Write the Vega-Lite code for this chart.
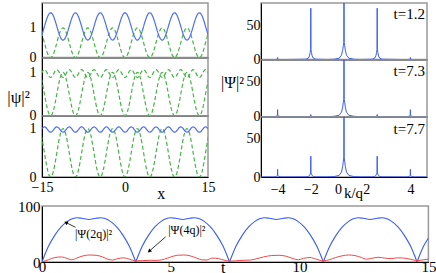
{
"$schema": "https://vega.github.io/schema/vega-lite/v6.json",
"padding": {"left": 5, "top": 2, "right": 0, "bottom": 0},
"spacing": -4,
"config": {
  "font": "Liberation Serif",
  "view": {"stroke": "#999", "strokeWidth": 1.5},
  "axis": {"domainColor": "black", "domainWidth": 1, "ticks": false, "tickSize": 0, "grid": false, "labelFont": "Liberation Serif", "titleFont": "Liberation Serif", "labelColor": "black", "titleColor": "black", "titleFontWeight": "normal", "labelFontSize": 14, "labelFlush": false, "labelOverlap": false}
},
"datasets": {
"left": [
{"x":-15.12,"g":0.854,"b1":0.725,"b2":0.97,"b3":0.98},
{"x":-14.84,"g":0.691,"b1":0.874,"b2":1.034,"b3":1.019},
{"x":-14.56,"g":0.5,"b1":1.05,"b2":1.06,"b3":1.035},
{"x":-14.28,"g":0.309,"b1":1.226,"b2":1.034,"b3":1.019},
{"x":-14,"g":0.146,"b1":1.375,"b2":0.97,"b3":0.98},
{"x":-13.72,"g":0.038,"b1":1.475,"b2":0.906,"b3":0.941},
{"x":-13.44,"g":0,"b1":1.51,"b2":0.88,"b3":0.925},
{"x":-13.16,"g":0.038,"b1":1.475,"b2":0.906,"b3":0.941},
{"x":-12.88,"g":0.146,"b1":1.375,"b2":0.97,"b3":0.98},
{"x":-12.6,"g":0.309,"b1":1.226,"b2":1.034,"b3":1.019},
{"x":-12.32,"g":0.5,"b1":1.05,"b2":1.06,"b3":1.035},
{"x":-12.04,"g":0.691,"b1":0.874,"b2":1.034,"b3":1.019},
{"x":-11.76,"g":0.854,"b1":0.725,"b2":0.97,"b3":0.98},
{"x":-11.48,"g":0.962,"b1":0.625,"b2":0.906,"b3":0.941},
{"x":-11.2,"g":1,"b1":0.59,"b2":0.88,"b3":0.925},
{"x":-10.92,"g":0.962,"b1":0.625,"b2":0.906,"b3":0.941},
{"x":-10.64,"g":0.854,"b1":0.725,"b2":0.97,"b3":0.98},
{"x":-10.36,"g":0.691,"b1":0.874,"b2":1.034,"b3":1.019},
{"x":-10.08,"g":0.5,"b1":1.05,"b2":1.06,"b3":1.035},
{"x":-9.8,"g":0.309,"b1":1.226,"b2":1.034,"b3":1.019},
{"x":-9.52,"g":0.146,"b1":1.375,"b2":0.97,"b3":0.98},
{"x":-9.24,"g":0.038,"b1":1.475,"b2":0.906,"b3":0.941},
{"x":-8.96,"g":0,"b1":1.51,"b2":0.88,"b3":0.925},
{"x":-8.68,"g":0.038,"b1":1.475,"b2":0.906,"b3":0.941},
{"x":-8.4,"g":0.146,"b1":1.375,"b2":0.97,"b3":0.98},
{"x":-8.12,"g":0.309,"b1":1.226,"b2":1.034,"b3":1.019},
{"x":-7.84,"g":0.5,"b1":1.05,"b2":1.06,"b3":1.035},
{"x":-7.56,"g":0.691,"b1":0.874,"b2":1.034,"b3":1.019},
{"x":-7.28,"g":0.854,"b1":0.725,"b2":0.97,"b3":0.98},
{"x":-7,"g":0.962,"b1":0.625,"b2":0.906,"b3":0.941},
{"x":-6.72,"g":1,"b1":0.59,"b2":0.88,"b3":0.925},
{"x":-6.44,"g":0.962,"b1":0.625,"b2":0.906,"b3":0.941},
{"x":-6.16,"g":0.854,"b1":0.725,"b2":0.97,"b3":0.98},
{"x":-5.88,"g":0.691,"b1":0.874,"b2":1.034,"b3":1.019},
{"x":-5.6,"g":0.5,"b1":1.05,"b2":1.06,"b3":1.035},
{"x":-5.32,"g":0.309,"b1":1.226,"b2":1.034,"b3":1.019},
{"x":-5.04,"g":0.146,"b1":1.375,"b2":0.97,"b3":0.98},
{"x":-4.76,"g":0.038,"b1":1.475,"b2":0.906,"b3":0.941},
{"x":-4.48,"g":0,"b1":1.51,"b2":0.88,"b3":0.925},
{"x":-4.2,"g":0.038,"b1":1.475,"b2":0.906,"b3":0.941},
{"x":-3.92,"g":0.146,"b1":1.375,"b2":0.97,"b3":0.98},
{"x":-3.64,"g":0.309,"b1":1.226,"b2":1.034,"b3":1.019},
{"x":-3.36,"g":0.5,"b1":1.05,"b2":1.06,"b3":1.035},
{"x":-3.08,"g":0.691,"b1":0.874,"b2":1.034,"b3":1.019},
{"x":-2.8,"g":0.854,"b1":0.725,"b2":0.97,"b3":0.98},
{"x":-2.52,"g":0.962,"b1":0.625,"b2":0.906,"b3":0.941},
{"x":-2.24,"g":1,"b1":0.59,"b2":0.88,"b3":0.925},
{"x":-1.96,"g":0.962,"b1":0.625,"b2":0.906,"b3":0.941},
{"x":-1.68,"g":0.854,"b1":0.725,"b2":0.97,"b3":0.98},
{"x":-1.4,"g":0.691,"b1":0.874,"b2":1.034,"b3":1.019},
{"x":-1.12,"g":0.5,"b1":1.05,"b2":1.06,"b3":1.035},
{"x":-0.84,"g":0.309,"b1":1.226,"b2":1.034,"b3":1.019},
{"x":-0.56,"g":0.146,"b1":1.375,"b2":0.97,"b3":0.98},
{"x":-0.28,"g":0.038,"b1":1.475,"b2":0.906,"b3":0.941},
{"x":0,"g":0,"b1":1.51,"b2":0.88,"b3":0.925},
{"x":0.28,"g":0.038,"b1":1.475,"b2":0.906,"b3":0.941},
{"x":0.56,"g":0.146,"b1":1.375,"b2":0.97,"b3":0.98},
{"x":0.84,"g":0.309,"b1":1.226,"b2":1.034,"b3":1.019},
{"x":1.12,"g":0.5,"b1":1.05,"b2":1.06,"b3":1.035},
{"x":1.4,"g":0.691,"b1":0.874,"b2":1.034,"b3":1.019},
{"x":1.68,"g":0.854,"b1":0.725,"b2":0.97,"b3":0.98},
{"x":1.96,"g":0.962,"b1":0.625,"b2":0.906,"b3":0.941},
{"x":2.24,"g":1,"b1":0.59,"b2":0.88,"b3":0.925},
{"x":2.52,"g":0.962,"b1":0.625,"b2":0.906,"b3":0.941},
{"x":2.8,"g":0.854,"b1":0.725,"b2":0.97,"b3":0.98},
{"x":3.08,"g":0.691,"b1":0.874,"b2":1.034,"b3":1.019},
{"x":3.36,"g":0.5,"b1":1.05,"b2":1.06,"b3":1.035},
{"x":3.64,"g":0.309,"b1":1.226,"b2":1.034,"b3":1.019},
{"x":3.92,"g":0.146,"b1":1.375,"b2":0.97,"b3":0.98},
{"x":4.2,"g":0.038,"b1":1.475,"b2":0.906,"b3":0.941},
{"x":4.48,"g":0,"b1":1.51,"b2":0.88,"b3":0.925},
{"x":4.76,"g":0.038,"b1":1.475,"b2":0.906,"b3":0.941},
{"x":5.04,"g":0.146,"b1":1.375,"b2":0.97,"b3":0.98},
{"x":5.32,"g":0.309,"b1":1.226,"b2":1.034,"b3":1.019},
{"x":5.6,"g":0.5,"b1":1.05,"b2":1.06,"b3":1.035},
{"x":5.88,"g":0.691,"b1":0.874,"b2":1.034,"b3":1.019},
{"x":6.16,"g":0.854,"b1":0.725,"b2":0.97,"b3":0.98},
{"x":6.44,"g":0.962,"b1":0.625,"b2":0.906,"b3":0.941},
{"x":6.72,"g":1,"b1":0.59,"b2":0.88,"b3":0.925},
{"x":7,"g":0.962,"b1":0.625,"b2":0.906,"b3":0.941},
{"x":7.28,"g":0.854,"b1":0.725,"b2":0.97,"b3":0.98},
{"x":7.56,"g":0.691,"b1":0.874,"b2":1.034,"b3":1.019},
{"x":7.84,"g":0.5,"b1":1.05,"b2":1.06,"b3":1.035},
{"x":8.12,"g":0.309,"b1":1.226,"b2":1.034,"b3":1.019},
{"x":8.4,"g":0.146,"b1":1.375,"b2":0.97,"b3":0.98},
{"x":8.68,"g":0.038,"b1":1.475,"b2":0.906,"b3":0.941},
{"x":8.96,"g":0,"b1":1.51,"b2":0.88,"b3":0.925},
{"x":9.24,"g":0.038,"b1":1.475,"b2":0.906,"b3":0.941},
{"x":9.52,"g":0.146,"b1":1.375,"b2":0.97,"b3":0.98},
{"x":9.8,"g":0.309,"b1":1.226,"b2":1.034,"b3":1.019},
{"x":10.08,"g":0.5,"b1":1.05,"b2":1.06,"b3":1.035},
{"x":10.36,"g":0.691,"b1":0.874,"b2":1.034,"b3":1.019},
{"x":10.64,"g":0.854,"b1":0.725,"b2":0.97,"b3":0.98},
{"x":10.92,"g":0.962,"b1":0.625,"b2":0.906,"b3":0.941},
{"x":11.2,"g":1,"b1":0.59,"b2":0.88,"b3":0.925},
{"x":11.48,"g":0.962,"b1":0.625,"b2":0.906,"b3":0.941},
{"x":11.76,"g":0.854,"b1":0.725,"b2":0.97,"b3":0.98},
{"x":12.04,"g":0.691,"b1":0.874,"b2":1.034,"b3":1.019},
{"x":12.32,"g":0.5,"b1":1.05,"b2":1.06,"b3":1.035},
{"x":12.6,"g":0.309,"b1":1.226,"b2":1.034,"b3":1.019},
{"x":12.88,"g":0.146,"b1":1.375,"b2":0.97,"b3":0.98},
{"x":13.16,"g":0.038,"b1":1.475,"b2":0.906,"b3":0.941},
{"x":13.44,"g":0,"b1":1.51,"b2":0.88,"b3":0.925},
{"x":13.72,"g":0.038,"b1":1.475,"b2":0.906,"b3":0.941},
{"x":14,"g":0.146,"b1":1.375,"b2":0.97,"b3":0.98},
{"x":14.28,"g":0.309,"b1":1.226,"b2":1.034,"b3":1.019},
{"x":14.56,"g":0.5,"b1":1.05,"b2":1.06,"b3":1.035},
{"x":14.84,"g":0.691,"b1":0.874,"b2":1.034,"b3":1.019},
{"x":15.12,"g":0.854,"b1":0.725,"b2":0.97,"b3":0.98}
],
"right": [
{"k":-5,"p1":0.02,"p2":0.02,"p3":0.02},
{"k":-4.3,"p1":0.02,"p2":0.08,"p3":0.08},
{"k":-4.15,"p1":0.08,"p2":0.28,"p3":0.28},
{"k":-4.08,"p1":0.22,"p2":0.72,"p3":0.72},
{"k":-4.04,"p1":0.42,"p2":1.39,"p3":1.39},
{"k":-4.01,"p1":0.59,"p2":1.95,"p3":1.95},
{"k":-4,"p1":3,"p2":10,"p3":10},
{"k":-3.99,"p1":0.59,"p2":1.95,"p3":1.95},
{"k":-3.96,"p1":0.42,"p2":1.39,"p3":1.39},
{"k":-3.92,"p1":0.22,"p2":0.72,"p3":0.72},
{"k":-3.85,"p1":0.08,"p2":0.28,"p3":0.28},
{"k":-3.7,"p1":0.02,"p2":0.08,"p3":0.08},
{"k":-2.3,"p1":0.58,"p2":0.02,"p3":0.21},
{"k":-2.15,"p1":2.1,"p2":0.08,"p3":0.76},
{"k":-2.08,"p1":5.4,"p2":0.22,"p3":1.94},
{"k":-2.04,"p1":10.4,"p2":0.42,"p3":3.75},
{"k":-2.01,"p1":14.6,"p2":0.59,"p3":5.3},
{"k":-2,"p1":75,"p2":3,"p3":27},
{"k":-1.99,"p1":14.6,"p2":0.59,"p3":5.3},
{"k":-1.96,"p1":10.4,"p2":0.42,"p3":3.75},
{"k":-1.92,"p1":5.4,"p2":0.22,"p3":1.94},
{"k":-1.85,"p1":2.1,"p2":0.08,"p3":0.76},
{"k":-1.7,"p1":0.58,"p2":0.02,"p3":0.21},
{"k":-1,"p1":0.19,"p2":0.19,"p3":0.19},
{"k":-0.6,"p1":0.53,"p2":0.53,"p3":0.53},
{"k":-0.3,"p1":2,"p2":2,"p3":2},
{"k":-0.15,"p1":6.4,"p2":6.4,"p3":6.4},
{"k":-0.08,"p1":13.7,"p2":13.7,"p3":13.7},
{"k":-0.04,"p1":20.7,"p2":20.7,"p3":20.7},
{"k":-0.01,"p1":24.7,"p2":24.7,"p3":24.7},
{"k":0,"p1":200,"p2":200,"p3":200},
{"k":0.01,"p1":24.7,"p2":24.7,"p3":24.7},
{"k":0.04,"p1":20.7,"p2":20.7,"p3":20.7},
{"k":0.08,"p1":13.7,"p2":13.7,"p3":13.7},
{"k":0.15,"p1":6.4,"p2":6.4,"p3":6.4},
{"k":0.3,"p1":2,"p2":2,"p3":2},
{"k":0.6,"p1":0.53,"p2":0.53,"p3":0.53},
{"k":1,"p1":0.19,"p2":0.19,"p3":0.19},
{"k":1.7,"p1":0.58,"p2":0.02,"p3":0.21},
{"k":1.85,"p1":2.1,"p2":0.08,"p3":0.76},
{"k":1.92,"p1":5.4,"p2":0.22,"p3":1.94},
{"k":1.96,"p1":10.4,"p2":0.42,"p3":3.75},
{"k":1.99,"p1":14.6,"p2":0.59,"p3":5.3},
{"k":2,"p1":75,"p2":3,"p3":27},
{"k":2.01,"p1":14.6,"p2":0.59,"p3":5.3},
{"k":2.04,"p1":10.4,"p2":0.42,"p3":3.75},
{"k":2.08,"p1":5.4,"p2":0.22,"p3":1.94},
{"k":2.15,"p1":2.1,"p2":0.08,"p3":0.76},
{"k":2.3,"p1":0.58,"p2":0.02,"p3":0.21},
{"k":3.7,"p1":0.02,"p2":0.08,"p3":0.08},
{"k":3.85,"p1":0.08,"p2":0.28,"p3":0.28},
{"k":3.92,"p1":0.22,"p2":0.72,"p3":0.72},
{"k":3.96,"p1":0.42,"p2":1.39,"p3":1.39},
{"k":3.99,"p1":0.59,"p2":1.95,"p3":1.95},
{"k":4,"p1":3,"p2":10,"p3":10},
{"k":4.01,"p1":0.59,"p2":1.95,"p3":1.95},
{"k":4.04,"p1":0.42,"p2":1.39,"p3":1.39},
{"k":4.08,"p1":0.22,"p2":0.72,"p3":0.72},
{"k":4.15,"p1":0.08,"p2":0.28,"p3":0.28},
{"k":4.3,"p1":0.02,"p2":0.08,"p3":0.08},
{"k":5,"p1":0.02,"p2":0.02,"p3":0.02}
],
"blue": [
{"c":0,"t":0,"v":0},{"c":0,"t":0.1,"v":12},{"c":0,"t":0.25,"v":28},{"c":0,"t":0.5,"v":48},{"c":0,"t":0.75,"v":63},{"c":0,"t":1,"v":73},{"c":0,"t":1.2,"v":77.5},{"c":0,"t":1.35,"v":79},{"c":0,"t":1.55,"v":78},{"c":0,"t":1.82,"v":76},{"c":0,"t":2.09,"v":78},{"c":0,"t":2.29,"v":79},{"c":0,"t":2.44,"v":77.5},{"c":0,"t":2.64,"v":73},{"c":0,"t":2.89,"v":63},{"c":0,"t":3.14,"v":48},{"c":0,"t":3.39,"v":28},{"c":0,"t":3.54,"v":12},{"c":0,"t":3.64,"v":0},
{"c":1,"t":3.64,"v":0},{"c":1,"t":3.74,"v":12},{"c":1,"t":3.89,"v":28},{"c":1,"t":4.14,"v":48},{"c":1,"t":4.39,"v":63},{"c":1,"t":4.64,"v":73},{"c":1,"t":4.84,"v":77.5},{"c":1,"t":4.99,"v":79},{"c":1,"t":5.19,"v":78},{"c":1,"t":5.46,"v":76},{"c":1,"t":5.73,"v":78},{"c":1,"t":5.93,"v":79},{"c":1,"t":6.08,"v":77.5},{"c":1,"t":6.28,"v":73},{"c":1,"t":6.53,"v":63},{"c":1,"t":6.78,"v":48},{"c":1,"t":7.03,"v":28},{"c":1,"t":7.18,"v":12},{"c":1,"t":7.28,"v":0},
{"c":2,"t":7.28,"v":0},{"c":2,"t":7.38,"v":12},{"c":2,"t":7.53,"v":28},{"c":2,"t":7.78,"v":48},{"c":2,"t":8.03,"v":63},{"c":2,"t":8.28,"v":73},{"c":2,"t":8.48,"v":77.5},{"c":2,"t":8.63,"v":79},{"c":2,"t":8.83,"v":78},{"c":2,"t":9.1,"v":76},{"c":2,"t":9.37,"v":78},{"c":2,"t":9.57,"v":79},{"c":2,"t":9.72,"v":77.5},{"c":2,"t":9.92,"v":73},{"c":2,"t":10.17,"v":63},{"c":2,"t":10.42,"v":48},{"c":2,"t":10.67,"v":28},{"c":2,"t":10.82,"v":12},{"c":2,"t":10.92,"v":0},
{"c":3,"t":10.92,"v":0},{"c":3,"t":11.02,"v":12},{"c":3,"t":11.17,"v":28},{"c":3,"t":11.42,"v":48},{"c":3,"t":11.67,"v":63},{"c":3,"t":11.92,"v":73},{"c":3,"t":12.12,"v":77.5},{"c":3,"t":12.27,"v":79},{"c":3,"t":12.47,"v":78},{"c":3,"t":12.74,"v":76},{"c":3,"t":13.01,"v":78},{"c":3,"t":13.21,"v":79},{"c":3,"t":13.36,"v":77.5},{"c":3,"t":13.56,"v":73},{"c":3,"t":13.81,"v":63},{"c":3,"t":14.06,"v":48},{"c":3,"t":14.31,"v":28},{"c":3,"t":14.46,"v":12},{"c":3,"t":14.56,"v":0},
{"c":4,"t":14.56,"v":0},{"c":4,"t":14.66,"v":12},{"c":4,"t":14.81,"v":28},{"c":4,"t":15,"v":43}
],
"red": [
{"t":0,"v":0},{"t":0.25,"v":4},{"t":0.5,"v":8},{"t":0.75,"v":9},{"t":1,"v":6},{"t":1.15,"v":4},{"t":1.35,"v":7},{"t":1.6,"v":11},{"t":1.85,"v":12.5},{"t":2.1,"v":12},{"t":2.35,"v":9},{"t":2.55,"v":5},{"t":2.75,"v":3.5},{"t":2.95,"v":6},{"t":3.15,"v":7.5},{"t":3.4,"v":5},{"t":3.64,"v":2},{"t":3.9,"v":2.5},{"t":4.2,"v":3},{"t":4.5,"v":3},{"t":4.75,"v":5},{"t":5,"v":9},{"t":5.25,"v":12},{"t":5.5,"v":12.5},{"t":5.75,"v":11},{"t":6,"v":7},{"t":6.2,"v":4},{"t":6.4,"v":3.5},{"t":6.6,"v":7},{"t":6.85,"v":6},{"t":7.1,"v":3},{"t":7.28,"v":1.5},{"t":7.5,"v":2},{"t":7.8,"v":3},{"t":8.1,"v":3.5},{"t":8.35,"v":6},{"t":8.6,"v":9},{"t":8.9,"v":11.5},{"t":9.2,"v":12},{"t":9.5,"v":10},{"t":9.75,"v":6},{"t":9.95,"v":4},{"t":10.15,"v":6.5},{"t":10.4,"v":8},{"t":10.65,"v":5},{"t":10.92,"v":2},{"t":11.15,"v":4},{"t":11.4,"v":8},{"t":11.65,"v":11},{"t":11.9,"v":12.5},{"t":12.15,"v":11.5},{"t":12.4,"v":8},{"t":12.6,"v":5},{"t":12.8,"v":6.5},{"t":13.05,"v":8.5},{"t":13.3,"v":7},{"t":13.55,"v":6},{"t":13.8,"v":7.5},{"t":14.05,"v":7},{"t":14.3,"v":5},{"t":14.56,"v":2.5},{"t":14.8,"v":4},{"t":15,"v":5}
],
"arrows": [
{"id":"a","t":0.95,"v":70,"t2":1.3,"v2":62},
{"id":"b","t":4.18,"v":20,"t2":4.8,"v2":45}
],
"notes": [
{"t":2.0,"v":50,"label":"|Ψ(2q)|²"},
{"t":5.62,"v":57,"label":"|Ψ(4q)|²"}
]
},
"vconcat": [
 {"hconcat": [
  {"vconcat": [
   {"width":166,"height":54.6,"data":{"name":"left"},"transform":[{"fold":["g","b1"]}],
    "mark":{"type":"line","strokeWidth":1.2,"clip":true,"interpolate":"monotone"},
    "encoding":{
     "x":{"field":"x","type":"quantitative","scale":{"domain":[-15,15],"nice":false,"zero":false},"axis":{"labels":false,"title":null}},
     "y":{"field":"value","type":"quantitative","scale":{"domain":[0,1.84],"nice":false},"axis":{"values":[0,1],"format":"d","labelPadding":6,"title":null}},
     "color":{"field":"key","type":"nominal","scale":{"domain":["g","b1"],"range":["#45b545","#4d6ef5"]},"legend":null},
     "strokeDash":{"field":"key","type":"nominal","scale":{"domain":["g","b1"],"range":[[4,2.5],[1,0]]},"legend":null}}},
   {"width":166,"height":57.7,"data":{"name":"left"},"transform":[{"fold":["g","b2"]}],
    "mark":{"type":"line","strokeWidth":1.2,"clip":true,"interpolate":"monotone"},
    "encoding":{
     "x":{"field":"x","type":"quantitative","scale":{"domain":[-15,15],"nice":false,"zero":false},"axis":{"labels":false,"title":null}},
     "y":{"field":"value","type":"quantitative","scale":{"domain":[0,1.33],"nice":false},"axis":{"values":[0,1],"format":"d","labelPadding":6,"title":"|ψ|²","titleAngle":0,"titleX":-24,"titleY":39,"titleAlign":"center","titleBaseline":"middle","titleFontSize":17}},
     "color":{"field":"key","type":"nominal","scale":{"domain":["g","b2"],"range":["#45b545","#4d6ef5"]},"legend":null},
     "strokeDash":{"field":"key","type":"nominal","scale":{"domain":["g","b2"],"range":[[4,2.5],[1,0]]},"legend":null}}},
   {"width":166,"height":61,"data":{"name":"left"},"transform":[{"fold":["g","b3"]}],
    "mark":{"type":"line","strokeWidth":1.2,"clip":true,"interpolate":"monotone"},
    "encoding":{
     "x":{"field":"x","type":"quantitative","scale":{"domain":[-15,15],"nice":false,"zero":false},"axis":{"values":[-15,0,15],"format":"d","labelBaseline":"alphabetic","labelPadding":14,"title":"x","titleX":118.7,"titleY":21,"titleBaseline":"alphabetic","titleAlign":"center","titleFontSize":16}},
     "y":{"field":"value","type":"quantitative","scale":{"domain":[0,1.26],"nice":false},"axis":{"values":[0,1],"format":"d","labelPadding":6,"title":null}},
     "color":{"field":"key","type":"nominal","scale":{"domain":["g","b3"],"range":["#45b545","#4d6ef5"]},"legend":null},
     "strokeDash":{"field":"key","type":"nominal","scale":{"domain":["g","b3"],"range":[[4,2.5],[1,0]]},"legend":null}}}
  ], "spacing": 0, "bounds": "flush"},
  {"vconcat": [
   {"width":166,"height":56.6,"layer":[
     {"data":{"name":"right"},"mark":{"type":"line","color":"#3a5cf5","strokeWidth":1,"clip":true},
      "encoding":{"x":{"field":"k","type":"quantitative","scale":{"domain":[-5,5],"nice":false,"zero":false},"axis":{"labels":false,"title":null}},
                  "y":{"field":"p1","type":"quantitative","scale":{"domain":[0,82.5],"nice":false},"axis":{"values":[0,50],"labelPadding":1,"title":null}}}},
     {"data":{"values":[{"label":"t=1.2"}]},"mark":{"type":"text","align":"right","baseline":"middle","fontSize":15,"font":"Liberation Serif","color":"black"},
      "encoding":{"x":{"datum":4.88,"type":"quantitative"},"y":{"datum":66.5,"type":"quantitative"},"text":{"field":"label"}}}]},
   {"width":166,"height":56.7,"layer":[
     {"data":{"name":"right"},"mark":{"type":"line","color":"#3a5cf5","strokeWidth":1,"clip":true},
      "encoding":{"x":{"field":"k","type":"quantitative","scale":{"domain":[-5,5],"nice":false,"zero":false},"axis":{"labels":false,"title":null}},
                  "y":{"field":"p2","type":"quantitative","scale":{"domain":[0,81],"nice":false},"axis":{"values":[0,50],"labelPadding":1,"title":"|Ψ|²","titleAngle":0,"titleX":-29,"titleY":22.7,"titleAlign":"center","titleBaseline":"middle","titleFontSize":16}}}},
     {"data":{"values":[{"label":"t=7.3"}]},"mark":{"type":"text","align":"right","baseline":"middle","fontSize":15,"font":"Liberation Serif","color":"black"},
      "encoding":{"x":{"datum":4.88,"type":"quantitative"},"y":{"datum":65.3,"type":"quantitative"},"text":{"field":"label"}}}]},
   {"width":166,"height":60,"layer":[
     {"data":{"name":"right"},"mark":{"type":"line","color":"#3a5cf5","strokeWidth":1,"clip":true},
      "encoding":{"x":{"field":"k","type":"quantitative","scale":{"domain":[-5,5],"nice":false,"zero":false},"axis":{"values":[-4,-2,0,2,4],"format":"d","labelBaseline":"alphabetic","labelPadding":16,"labelOffset":{"condition":[{"test":"datum.value === 0","value":-6},{"test":"datum.value === 2","value":-11}],"value":0},"title":"k/q","titleX":92,"titleY":20,"titleBaseline":"alphabetic","titleAlign":"center","titleFontSize":15}},
                  "y":{"field":"p3","type":"quantitative","scale":{"domain":[0,78],"nice":false},"axis":{"values":[0,50],"labelPadding":1,"title":null}}}},
     {"data":{"values":[{"label":"t=7.7"}]},"mark":{"type":"text","align":"right","baseline":"middle","fontSize":15,"font":"Liberation Serif","color":"black"},
      "encoding":{"x":{"datum":4.88,"type":"quantitative"},"y":{"datum":62.8,"type":"quantitative"},"text":{"field":"label"}}}]}
  ], "spacing": 0, "bounds": "flush"}
 ], "spacing": 3},
 {"width":386.4,"height":56,
  "encoding":{
   "x":{"field":"t","type":"quantitative","scale":{"domain":[0,15],"nice":false,"zero":false},"axis":{"values":[0,5,10,15],"format":"d","labelBaseline":"alphabetic","labelPadding":9,"labelFontSize":15,"title":"t","titleX":180.7,"titleY":10,"titleBaseline":"alphabetic","titleAlign":"center","titleFontSize":16}},
   "y":{"field":"v","type":"quantitative","scale":{"domain":[0,100],"nice":false},"axis":{"values":[0,100],"format":"d","labelPadding":2,"labelFontSize":15,"title":null}}},
  "layer":[
   {"data":{"name":"blue"},"mark":{"type":"line","color":"#3a5cf5","strokeWidth":1.1,"interpolate":"monotone","clip":true},"encoding":{"detail":{"field":"c","type":"nominal"}}},
   {"data":{"name":"red"},"mark":{"type":"line","color":"#f04848","strokeWidth":1,"interpolate":"monotone","clip":true}},
   {"data":{"name":"arrows"},"mark":{"type":"rule","color":"black","strokeWidth":0.8},"encoding":{"x2":{"field":"t2"},"y2":{"field":"v2"}}},
   {"data":{"name":"arrows"},"transform":[{"filter":"datum.id == 'a'"}],"mark":{"type":"point","shape":"triangle","angle":297,"filled":true,"color":"black","size":18,"opacity":1}},
   {"data":{"name":"arrows"},"transform":[{"filter":"datum.id == 'b'"}],"mark":{"type":"point","shape":"triangle","angle":229,"filled":true,"color":"black","size":18,"opacity":1}},
   {"data":{"name":"notes"},"mark":{"type":"text","fontSize":12,"font":"Liberation Serif","color":"black","align":"center","baseline":"middle"},"encoding":{"text":{"field":"label"}}}
  ]}
]
}
